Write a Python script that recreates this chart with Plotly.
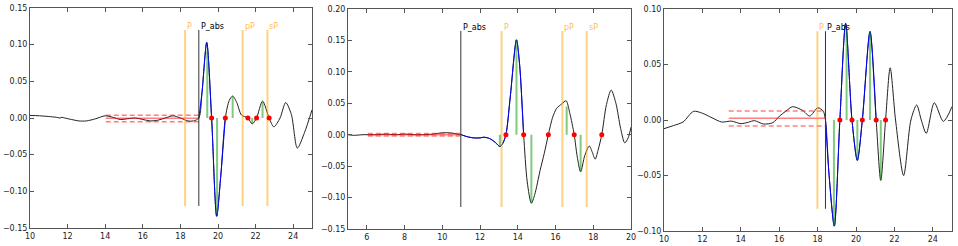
import plotly.graph_objects as go

# ---------------- Panel 1 data ----------------
p1_t = [10.0, 10.5, 11.0, 11.4, 11.6, 11.7, 11.85, 12.2, 12.6, 13.0, 13.5, 14.0, 14.4, 14.8, 15.2, 15.6,
        16.0, 16.4, 16.8, 17.2, 17.6, 18.0, 18.4, 18.7, 18.98, 19.15, 19.40, 19.66, 19.93, 20.15, 20.39,
        20.6, 20.78, 21.0, 21.25, 21.59, 21.82, 22.05, 22.37, 22.72, 22.97, 23.3, 23.6, 23.9, 24.22, 24.6, 25.0]
p1_y = [0.0035, 0.003, 0.002, 0.001, 0.0, 0.001, 0.0, -0.002, -0.004, -0.004, -0.001, 0.003, 0.001, -0.002,
        -0.001, 0.0, -0.002, -0.004, -0.003, 0.0, 0.003, 0.0, -0.004, -0.004, 0.0, 0.035, 0.103, 0.0, -0.134,
        -0.078, 0.0, 0.024, 0.030, 0.021, 0.004, 0.0, -0.008, 0.0, 0.023, 0.0, -0.012, 0.0, 0.021, 0.005,
        -0.041, -0.02, 0.011]
p1_blue = [18.98, 20.39]
p1_zero_t = [19.66, 20.39, 21.59, 22.05, 22.72]
p1_peak_t = [19.43, 19.95, 20.78, 21.82, 22.37]
p1_peak_a = [0.092, -0.130, 0.029, -0.008, 0.022]
p1_phase_names = ["P", "pP", "sP"]
p1_phase_t = [18.25, 21.31, 22.63]
p1_pabs_t = 18.98
p1_mark_lim = [-0.12, 0.12]
p1_noise_t = [14.03, 19.01]
p1_noise = [-0.0005, 0.0036, -0.005]   # mean, upper, lower

# ---------------- Panel 2 data ----------------
p2_t = [5.0, 5.3, 5.8, 6.5, 7.0, 7.5, 8.0, 8.5, 9.0, 9.5, 10.0, 10.4, 10.8, 11.0, 11.3, 11.65, 12.0, 12.2,
        12.5, 12.8, 13.06, 13.2, 13.37, 13.6, 13.93, 14.1, 14.31, 14.5, 14.72, 14.9, 15.18, 15.4, 15.62,
        15.85, 16.06, 16.33, 16.56, 16.75, 16.99, 17.15, 17.33, 17.55, 17.79, 17.95, 18.1, 18.25, 18.45,
        18.7, 18.95, 19.2, 19.45, 19.67, 19.85, 20.0]
p2_y = [0.0, -0.001, 0.0, 0.0, 0.001, 0.0, 0.001, 0.0, 0.0, 0.001, 0.003, 0.003, 0.001, 0.0, -0.003, -0.005,
        -0.005, -0.004, -0.006, -0.012, -0.019, -0.014, 0.0, 0.06, 0.151, 0.11, 0.0, -0.075, -0.109, -0.095,
        -0.057, -0.03, 0.0, 0.028, 0.042, 0.049, 0.054, 0.035, 0.0, -0.035, -0.059, -0.033, -0.018, -0.028,
        -0.039, -0.025, 0.0, 0.048, 0.071, 0.05, 0.01, -0.013, -0.005, 0.012]
p2_blue = [11.0, 14.31]
p2_zero_t = [13.37, 14.31, 15.62, 16.99, 18.45]
p2_peak_t = [13.05, 13.93, 14.72, 16.59, 17.33]
p2_peak_a = [-0.019, 0.150, -0.109, 0.045, -0.058]
p2_phase_names = ["P", "pP", "sP"]
p2_phase_t = [13.14, 16.36, 17.65]
p2_pabs_t = 10.98
p2_mark_lim = [-0.115, 0.165]
p2_noise_t = [6.05, 10.95]
p2_noise = [0.0, 0.002, -0.002]

# ---------------- Panel 3 data ----------------
p3_t = [10.0, 10.5, 10.99, 11.54, 12.01, 12.5, 13.0, 13.51, 14.01, 14.4, 14.71, 15.18, 15.67, 16.02, 16.35,
        16.70, 17.21, 17.59, 18.01, 18.29, 18.41, 18.6, 18.87, 19.16, 19.46, 19.79, 20.07, 20.33, 20.73,
        21.05, 21.29, 21.54, 21.78, 22.06, 22.48, 22.86, 23.16, 23.4, 23.66, 24.08, 24.55, 25.0]
p3_y = [-0.0078, -0.005, -0.0018, 0.0078, 0.006, 0.002, -0.0018, -0.001, -0.0033, -0.002, -0.0006, -0.0036,
        -0.0024, 0.0036, 0.008, 0.012, 0.0087, 0.0036, 0.011, 0.008, 0.0, -0.05, -0.0956, 0.0, 0.087, 0.0,
        -0.0364, 0.0, 0.0797, 0.0, -0.0544, 0.0, 0.047, 0.0, -0.05, 0.0, 0.0135, 0.0, -0.012, 0.0155,
        -0.0012, 0.012]
p3_blue = [18.41, 21.05]
p3_zero_t = [19.16, 19.79, 20.33, 21.05, 21.54]
p3_peak_t = [18.85, 19.51, 20.07, 20.73, 21.29]
p3_peak_a = [-0.095, 0.082, -0.035, 0.079, -0.054]
p3_phase_names = ["P"]
p3_phase_t = [17.99]
p3_pabs_t = 18.41
p3_mark_lim = [-0.08, 0.08]
p3_noise_t = [13.37, 18.41]
p3_noise = [0.0015, 0.0081, -0.0054]

# axis settings
x_ranges = [[10, 25], [5, 20], [10, 25]]
y_ranges = [[-0.15, 0.15], [-0.15, 0.20], [-0.10, 0.10]]

panels = [
    (p1_t, p1_y, p1_blue, p1_zero_t, p1_peak_t, p1_peak_a, p1_phase_names, p1_phase_t, p1_pabs_t, p1_mark_lim, p1_noise_t, p1_noise),
    (p2_t, p2_y, p2_blue, p2_zero_t, p2_peak_t, p2_peak_a, p2_phase_names, p2_phase_t, p2_pabs_t, p2_mark_lim, p2_noise_t, p2_noise),
    (p3_t, p3_y, p3_blue, p3_zero_t, p3_peak_t, p3_peak_a, p3_phase_names, p3_phase_t, p3_pabs_t, p3_mark_lim, p3_noise_t, p3_noise),
]

W, H = 958, 246
px_x = [(30, 312), (348, 631), (664, 952)]
px_y = [(8, 228), (9, 229), (9, 231)]

FONT = "DejaVu Sans"
ORANGE = "rgba(255,165,0,0.5)"
ORANGE_TXT = "rgba(255,165,0,0.75)"
GREEN = "rgba(0,150,0,0.5)"
RED_A = "rgba(255,0,0,0.5)"

fig = go.Figure()
annotations = []

for i, (t, y, blue, zt, pt, pa, names, pht, pabs, mlim, nt, nz) in enumerate(panels):
    sfx = "" if i == 0 else str(i + 1)
    xa, ya = "x" + sfx, "y" + sfx
    # waveform
    fig.add_trace(go.Scatter(x=t, y=y, mode="lines", xaxis=xa, yaxis=ya,
                             line=dict(color="#222222", width=1, shape="spline", smoothing=0.8),
                             hoverinfo="skip"))
    # blue window
    bt = [a for a in t if blue[0] <= a <= blue[1]]
    by = [b for a, b in zip(t, y) if blue[0] <= a <= blue[1]]
    fig.add_trace(go.Scatter(x=bt, y=by, mode="lines", xaxis=xa, yaxis=ya,
                             line=dict(color="#0000FF", width=1, shape="spline", smoothing=0.8),
                             hoverinfo="skip"))
    # noise lines
    fig.add_trace(go.Scatter(x=nt, y=[nz[0], nz[0]], mode="lines", xaxis=xa, yaxis=ya,
                             line=dict(color=RED_A, width=1.5), hoverinfo="skip"))
    for lv in nz[1:]:
        fig.add_trace(go.Scatter(x=nt, y=[lv, lv], mode="lines", xaxis=xa, yaxis=ya,
                                 line=dict(color=RED_A, width=1.5, dash="5px,3px"), hoverinfo="skip"))
    # phase lines (orange)
    vx, vy = [], []
    for p in pht:
        vx += [p, p, None]
        vy += [mlim[0], mlim[1], None]
    fig.add_trace(go.Scatter(x=vx, y=vy, mode="lines", xaxis=xa, yaxis=ya,
                             line=dict(color=ORANGE, width=2), hoverinfo="skip"))
    # P_abs line
    fig.add_trace(go.Scatter(x=[pabs, pabs], y=mlim, mode="lines", xaxis=xa, yaxis=ya,
                             line=dict(color="#333333", width=1), hoverinfo="skip"))
    # green amplitude lines
    gx, gy = [], []
    for a, b in zip(pt, pa):
        gx += [a, a, None]
        gy += [0, b, None]
    fig.add_trace(go.Scatter(x=gx, y=gy, mode="lines", xaxis=xa, yaxis=ya,
                             line=dict(color=GREEN, width=2), hoverinfo="skip"))
    # zero crossings
    fig.add_trace(go.Scatter(x=zt, y=[0] * len(zt), mode="markers", xaxis=xa, yaxis=ya,
                             marker=dict(color="#FF0000", size=5, line=dict(width=0)), hoverinfo="skip"))
    # labels
    for n, p in zip(names, pht):
        annotations.append(dict(x=p, y=mlim[1], xref=xa, yref=ya, text=n, showarrow=False,
                                xanchor="left", yanchor="bottom", xshift=0, yshift=-3,
                                font=dict(family=FONT, size=8, color=ORANGE_TXT)))
    annotations.append(dict(x=pabs, y=mlim[1], xref=xa, yref=ya, text="P_abs", showarrow=False,
                            xanchor="left", yanchor="bottom", yshift=-3,
                            font=dict(family=FONT, size=8, color="#000000")))

layout = dict(width=W, height=H, margin=dict(l=0, r=0, t=0, b=0), showlegend=False,
              paper_bgcolor="white", plot_bgcolor="white", annotations=annotations,
              font=dict(family=FONT, size=8, color="#222222"))

for i in range(3):
    sfx = "" if i == 0 else str(i + 1)
    x0, x1 = px_x[i]
    y0, y1 = px_y[i]
    axis_common = dict(showline=True, linecolor="#555555", linewidth=1, mirror="ticks",
                       ticks="inside", ticklen=4, tickcolor="#555555", showgrid=False,
                       zeroline=False, automargin=False, tickfont=dict(family=FONT, size=8, color="#222222"))
    layout["xaxis" + sfx] = dict(axis_common, domain=[x0 / W, x1 / W], range=x_ranges[i],
                                 tick0=0, dtick=2, anchor="y" + sfx)
    layout["yaxis" + sfx] = dict(axis_common, domain=[1 - y1 / H, 1 - y0 / H], range=y_ranges[i],
                                 tick0=0, dtick=0.05, tickformat=".2f", anchor="x" + sfx)

fig.update_layout(**layout)
fig.write_html("out.html")
